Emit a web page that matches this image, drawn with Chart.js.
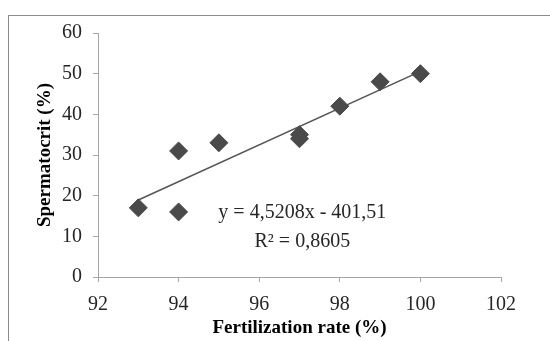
<!DOCTYPE html>
<html>
<head>
<meta charset="utf-8">
<script src="https://cdn.jsdelivr.net/npm/chart.js@4.4.0/dist/chart.umd.min.js"></script>
<style>
  html, body { margin: 0; padding: 0; background: #fff; overflow: hidden; }
  #wrap { position: relative; width: 550px; height: 341px; }
  #frame { position: absolute; left: 8px; top: 15px; width: 600px; height: 400px; border: 1px solid #8c8c8c; }
  canvas { position: absolute; left: 0; top: 0; }
</style>
</head>
<body>
<div id="wrap">
  <div id="frame"></div>
  <canvas id="myChart" width="550" height="341"></canvas>
</div>
<script>
// fertilization rate (%) vs spermatocrit (%)
const fertilization = [93, 94, 94, 95, 97, 97, 98, 99, 100];
const spermatocrit = [17, 31, 16, 33, 35, 34, 42, 48, 50];

// trendline from the equation printed on the chart
const slope = 4.5208;
const intercept = -401.51;
const trendX = [93, 100];
const eqText = ['y = 4,5208x - 401,51', 'R\u00B2 = 0,8605'];

const xTicks = [92, 94, 96, 98, 100, 102];
const yTicks = [0, 10, 20, 30, 40, 50, 60];

const serif = "'Liberation Serif', 'Times New Roman', serif";
const axisGray = '#a6a6a6';

let ctx = document.getElementById('myChart').getContext('2d');

const eqPlugin = {
    id: 'eqLabel',
    afterDraw(chart) {
        const c = chart.ctx;
        const xs = chart.scales.x;
        const ys = chart.scales.y;
        c.save();
        c.fillStyle = '#262626';
        c.font = '20px ' + serif;
        c.textAlign = 'center';
        c.textBaseline = 'middle';
        const cx = xs.getPixelForValue(97.07);
        c.fillText(eqText[0], cx, ys.getPixelForValue(15.7));
        c.fillText(eqText[1], cx, ys.getPixelForValue(8.6));
        c.restore();
    }
};

let myChart = new Chart(ctx, {
    type: 'scatter',
    data: {
        datasets: [{
            label: 'Spermatocrit',
            data: fertilization.map((f, i) => ({ x: f, y: spermatocrit[i] })),
            pointStyle: 'rectRot',
            pointRadius: 9,
            pointBackgroundColor: '#4a4a4a',
            pointBorderColor: '#4a4a4a',
            pointBorderWidth: 1,
            order: 1
        }, {
            label: 'Trend',
            type: 'line',
            data: trendX.map(x => ({ x: x, y: slope * x + intercept })),
            borderColor: '#555555',
            borderWidth: 1.5,
            pointRadius: 0,
            fill: false,
            order: 2
        }]
    },
    options: {
        responsive: false,
        animation: false,
        layout: { padding: { top: 33, right: 49, left: 34, bottom: 0 } },
        plugins: {
            legend: { display: false },
            tooltip: { enabled: false }
        },
        scales: {
            x: {
                type: 'linear',
                min: 92,
                max: 102,
                afterBuildTicks: s => { s.ticks = xTicks.map(v => ({ value: v })); },
                afterFit: s => { s.height = 64; },
                grid: { drawOnChartArea: false, drawTicks: true, tickLength: 5, color: axisGray },
                border: { display: true, color: axisGray, width: 1 },
                ticks: { color: '#262626', font: { family: serif, size: 20 }, padding: 11, maxRotation: 0 },
                title: {
                    display: true,
                    text: 'Fertilization rate (%)',
                    color: '#000',
                    font: { family: serif, size: 19, weight: 'bold' },
                    padding: { top: 0, bottom: 2 }
                }
            },
            y: {
                type: 'linear',
                min: 0,
                max: 60,
                afterBuildTicks: s => { s.ticks = yTicks.map(v => ({ value: v })); },
                afterFit: s => { s.width = 64; },
                grid: { drawOnChartArea: false, drawTicks: true, tickLength: 5, color: axisGray },
                border: { display: true, color: axisGray, width: 1 },
                ticks: { color: '#262626', font: { family: serif, size: 20 }, padding: 11 },
                title: {
                    display: true,
                    text: 'Spermatocrit (%)',
                    color: '#000',
                    font: { family: serif, size: 19, weight: 'bold' },
                    padding: { top: 0, bottom: 0 }
                }
            }
        }
    },
    plugins: [eqPlugin]
});
</script>
</body>
</html>
